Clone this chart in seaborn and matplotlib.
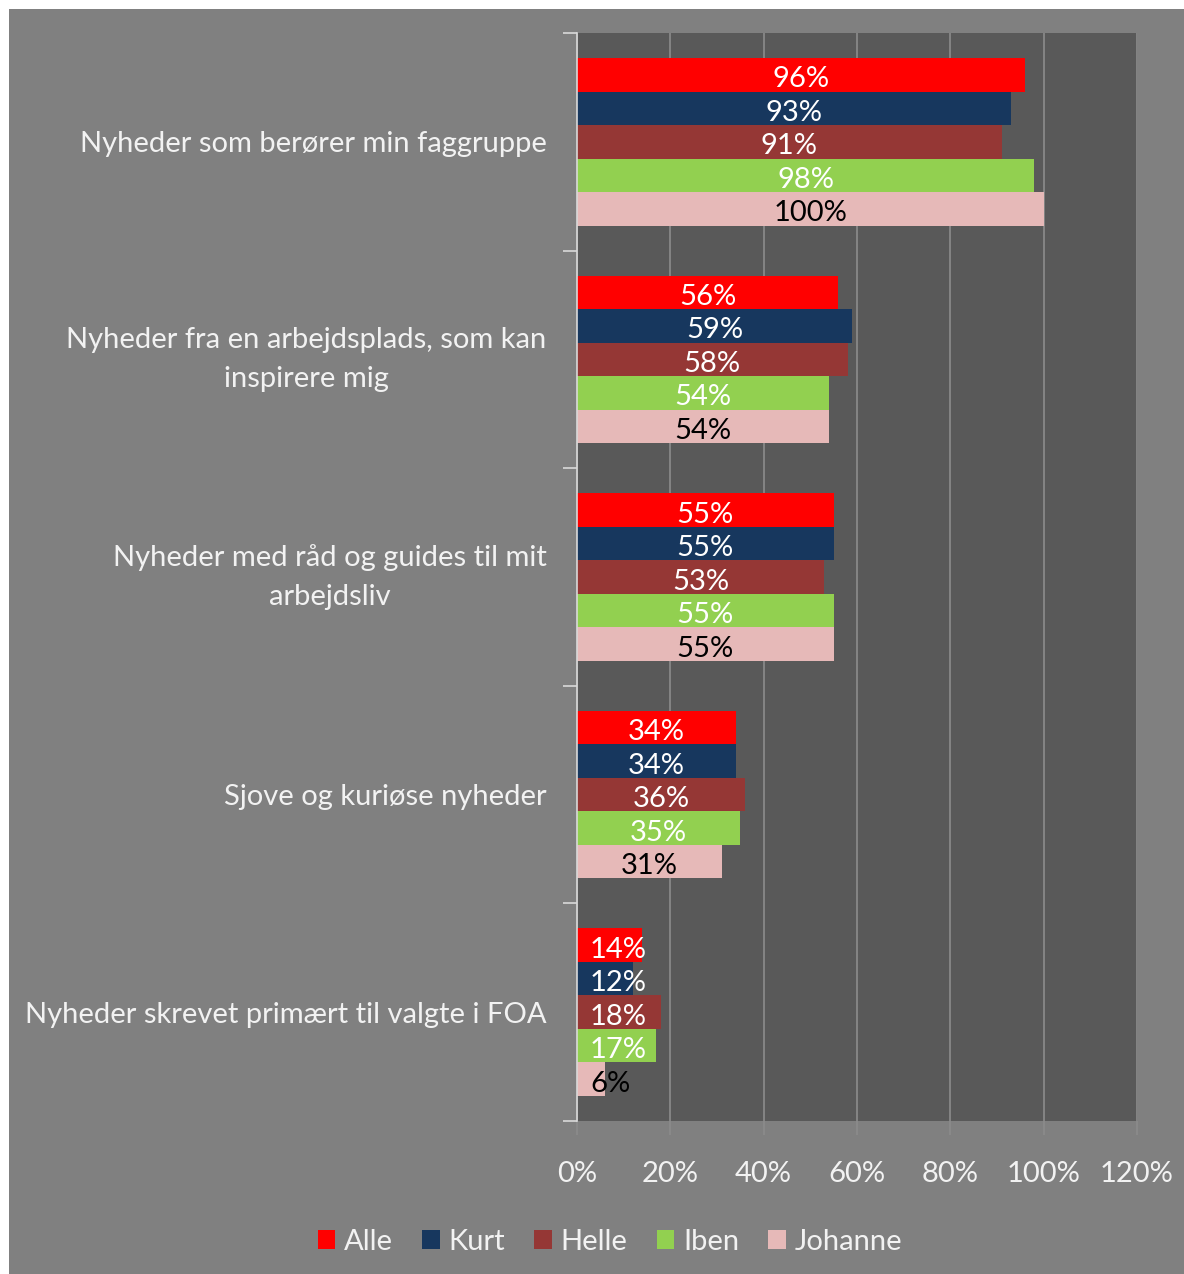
import matplotlib
matplotlib.use("Agg")
import matplotlib.pyplot as plt
import matplotlib.patches as mpatches
from matplotlib.ticker import FixedLocator, PercentFormatter
import numpy as np
import pandas as pd
import seaborn as sns

categories = [
    "Nyheder som berører min faggruppe",
    "Nyheder fra en arbejdsplads, som kan\ninspirere mig",
    "Nyheder med råd og guides til mit\narbejdsliv",
    "Sjove og kuriøse nyheder",
    "Nyheder skrevet primært til valgte i FOA",
]
groups = ["Alle", "Kurt", "Helle", "Iben", "Johanne"]
alle = [96, 56, 55, 34, 14]
kurt = [93, 59, 55, 34, 12]
helle = [91, 58, 53, 36, 18]
iben = [98, 54, 55, 35, 17]
johanne = [100, 54, 55, 31, 6]
x_ticks = [0, 20, 40, 60, 80, 100, 120]

colors = ["#FF0000", "#17375E", "#953735", "#92D050", "#E6B9B8"]
label_colors = ["#FFFFFF", "#FFFFFF", "#FFFFFF", "#FFFFFF", "#000000"]

series = [alle, kurt, helle, iben, johanne]
df = pd.DataFrame(
    [(c, g, v) for g, vals in zip(groups, series) for c, v in zip(categories, vals)],
    columns=["kategori", "gruppe", "andel"],
)

sns.set_style("white")
plt.rcParams["font.family"] = ["Lato", "DejaVu Sans"]

W, H = 1184, 1274
fig = plt.figure(figsize=(W / 100, H / 100), dpi=100, facecolor="white")
# grey chart area
fig.patches.append(mpatches.Rectangle((9 / W, 0), 1, 1 - 9 / H, transform=fig.transFigure,
                                      facecolor="#808080", edgecolor="none", zorder=-10))

ax = fig.add_axes([577 / W, 1 - 1121 / H, (1137 - 577) / W, (1121 - 33) / H])
ax.set_facecolor("#595959")

sns.barplot(data=df, y="kategori", x="andel", hue="gruppe", order=categories,
            hue_order=groups, palette=colors, orient="h", width=0.77,
            saturation=1, ax=ax, legend=False, zorder=3, linewidth=0, edgecolor="none")

ax.set_xlim(0, 120)
ax.set_ylim(len(categories) - 0.5, -0.5)
ax.xaxis.set_major_locator(FixedLocator(x_ticks))
ax.xaxis.set_major_formatter(PercentFormatter(decimals=0))
ax.grid(axis="x", color="#8C8C8C", linewidth=1.2, zorder=0)
ax.set_axisbelow(True)
ax.set_xlabel("")
ax.set_ylabel("")

txt = "#F2F2F2"
fs = 21
ax.tick_params(axis="x", colors="#8C8C8C", length=10, width=1.2, pad=19,
               labelcolor=txt, labelsize=fs, bottom=True)
ax.tick_params(axis="y", which="major", length=0, pad=22, labelcolor=txt, labelsize=fs)
ax.yaxis.set_minor_locator(FixedLocator(np.arange(-0.5, len(categories), 1.0)))
ax.tick_params(axis="y", which="minor", length=10, width=1.2, color="#D9D9D9", left=True)
for lbl in ax.get_yticklabels():
    lbl.set_multialignment("center")
    lbl.set_linespacing(1.6)
    if "\n" in lbl.get_text():
        lbl.set_verticalalignment("center")

for s in ["top", "right", "bottom"]:
    ax.spines[s].set_visible(False)
ax.spines["left"].set_color("#D9D9D9")
ax.spines["left"].set_linewidth(1.2)
ax.spines["left"].set_zorder(5)

# value labels centred in each bar, nudged inward on short bars
for container, lc in zip(ax.containers, label_colors):
    for bar in container:
        v = bar.get_width()
        yc = bar.get_y() + bar.get_height() / 2
        if v < 20:
            xpos, ha = 2.8, "left"
        else:
            xpos, ha = v / 2, "center"
        ax.annotate(f"{v:.0f}%", (xpos, yc), xytext=(0, -1.5), textcoords="offset points",
                    ha=ha, va="center_baseline", color=lc, fontsize=fs, zorder=6)

handles = [mpatches.Patch(facecolor=c, edgecolor="none", label=g) for g, c in zip(groups, colors)]
fig.legend(handles=handles, loc="center", bbox_to_anchor=(610 / W, 1 - 1242 / H), ncol=5,
           frameon=False, fontsize=fs, handlelength=0.6, handleheight=0.65,
           handletextpad=0.3, columnspacing=1.0, labelcolor=txt)

fig.savefig("out.png", dpi=100, facecolor="white")
